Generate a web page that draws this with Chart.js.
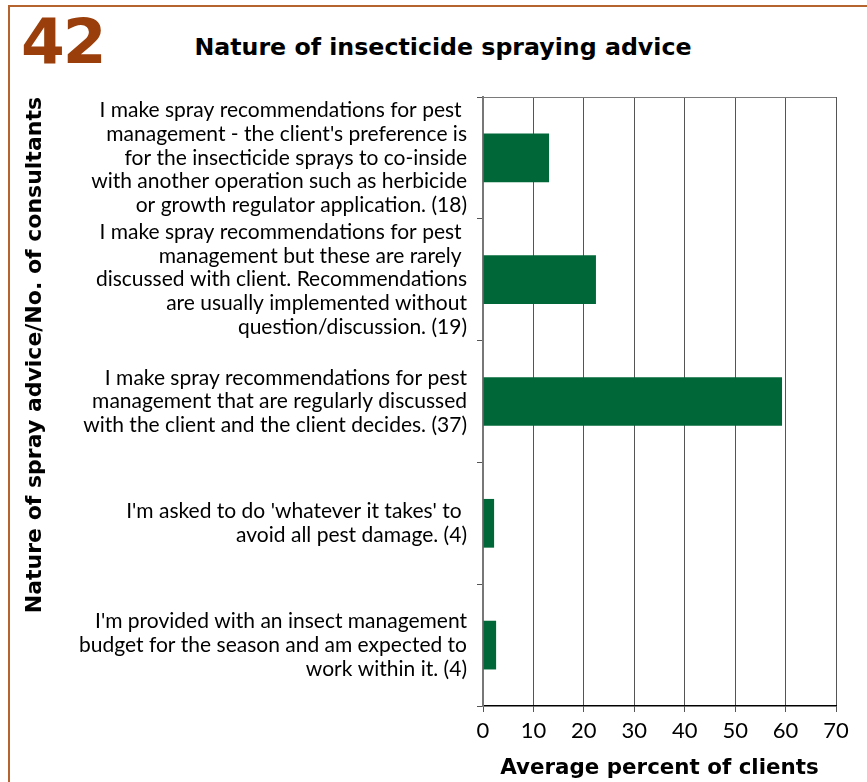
<!DOCTYPE html>
<html lang="en">
<head>
<meta charset="UTF-8">
<title>Nature of insecticide spraying advice</title>
<script src="https://cdn.jsdelivr.net/npm/chart.js"></script>
<style>
  body { margin: 0; background: #fff; font-family: Lato, sans-serif; }
  #wrap { position: relative; width: 867px; height: 782px; overflow: hidden; background: #fff; }
  #frame { position: absolute; left: 8px; top: 5px; width: 1000px; height: 1000px;
           border-top: 2px solid #b5632f; border-left: 2px solid #b5632f; }
  #num { position: absolute; left: 21px; top: 5px; font: bold 63px "DejaVu Sans", sans-serif;
         color: #9a3f0b; letter-spacing: -2px; }
  #title { position: absolute; left: 0; width: 886px; top: 33px; text-align: center;
           font: bold 23.7px "DejaVu Sans", sans-serif; color: #000; }
  canvas { position: absolute; left: 0; top: 0; }
</style>
</head>
<body>
<div id="wrap">
  <div id="frame"></div>
  <div id="num">42</div>
  <div id="title">Nature of insecticide spraying advice</div>
  <canvas id="chart" width="867" height="782"></canvas>
</div>

<script>
// answers, each wrapped as it is printed next to the axis
const advice = [
  ["I make spray recommendations for pest ",
   "management - the client's preference is",
   "for the insecticide sprays to co-inside",
   "with another operation such as herbicide",
   "or growth regulator application. (18)"],
  ["I make spray recommendations for pest ",
   "management but these are rarely ",
   "discussed with client. Recommendations",
   "are usually implemented without",
   "question/discussion. (19)"],
  ["I make spray recommendations for pest",
   "management that are regularly discussed",
   "with the client and the client decides. (37)"],
  ["I'm asked to do 'whatever it takes' to ",
   "avoid all pest damage. (4)"],
  ["I'm provided with an insect management",
   "budget for the season and am expected to",
   "work within it. (4)"]
];
const avgPercent = [13.1, 22.4, 59.3, 2.2, 2.6];
const xMin = 0, xMax = 70, xStep = 10;

const barGreen = '#006838';
const heavy = { family: '"DejaVu Sans"', weight: 'bold' };

// thin grey line along the top of the plot area
const topEdge = {
  id: 'topEdge',
  beforeDatasetsDraw(chart) {
    const { ctx, chartArea: a } = chart;
    ctx.save();
    ctx.strokeStyle = '#7a7a7a';
    ctx.lineWidth = 1;
    ctx.beginPath();
    ctx.moveTo(a.left, a.top + 0.5);
    ctx.lineTo(a.right, a.top + 0.5);
    ctx.stroke();
    ctx.restore();
  }
};

new Chart(document.getElementById('chart'), {
  type: 'bar',
  data: {
    labels: advice,
    datasets: [{
      data: avgPercent,
      backgroundColor: barGreen,
      borderWidth: 0,
      categoryPercentage: 0.8,
      barPercentage: 0.5
    }]
  },
  plugins: [topEdge],
  options: {
    indexAxis: 'y',
    responsive: false,
    animation: false,
    layout: { padding: { left: 8, right: 31, top: 97, bottom: 0 } },
    plugins: { legend: { display: false }, tooltip: { enabled: false } },
    scales: {
      x: {
        min: xMin, max: xMax,
        ticks: { stepSize: xStep, color: '#000', padding: 6,
                 font: { family: 'Lato', size: 22 } },
        grid: { color: '#555', lineWidth: 1, tickLength: 6, tickColor: '#555' },
        border: { color: '#000', width: 1.5 },
        title: { display: true, text: 'Average percent of clients', color: '#000',
                 font: { ...heavy, size: 21.4 }, padding: { top: 0, bottom: 1 } },
        afterFit(scale) { scale.height = 76; }
      },
      y: {
        ticks: { color: '#000', padding: 10,
                 font: { family: 'Lato', size: 21, lineHeight: 1.13 } },
        grid: { drawOnChartArea: false, offset: true, tickLength: 6, color: '#555' },
        border: { color: '#777', width: 2 },
        title: { display: true, text: 'Nature of spray advice/No. of consultants', color: '#000',
                 align: 'end',
                 font: { ...heavy, size: 22 }, padding: { top: 14, bottom: 0 } },
        afterFit(scale) { scale.width = 475; }
      }
    }
  }
});
</script>
</body>
</html>
